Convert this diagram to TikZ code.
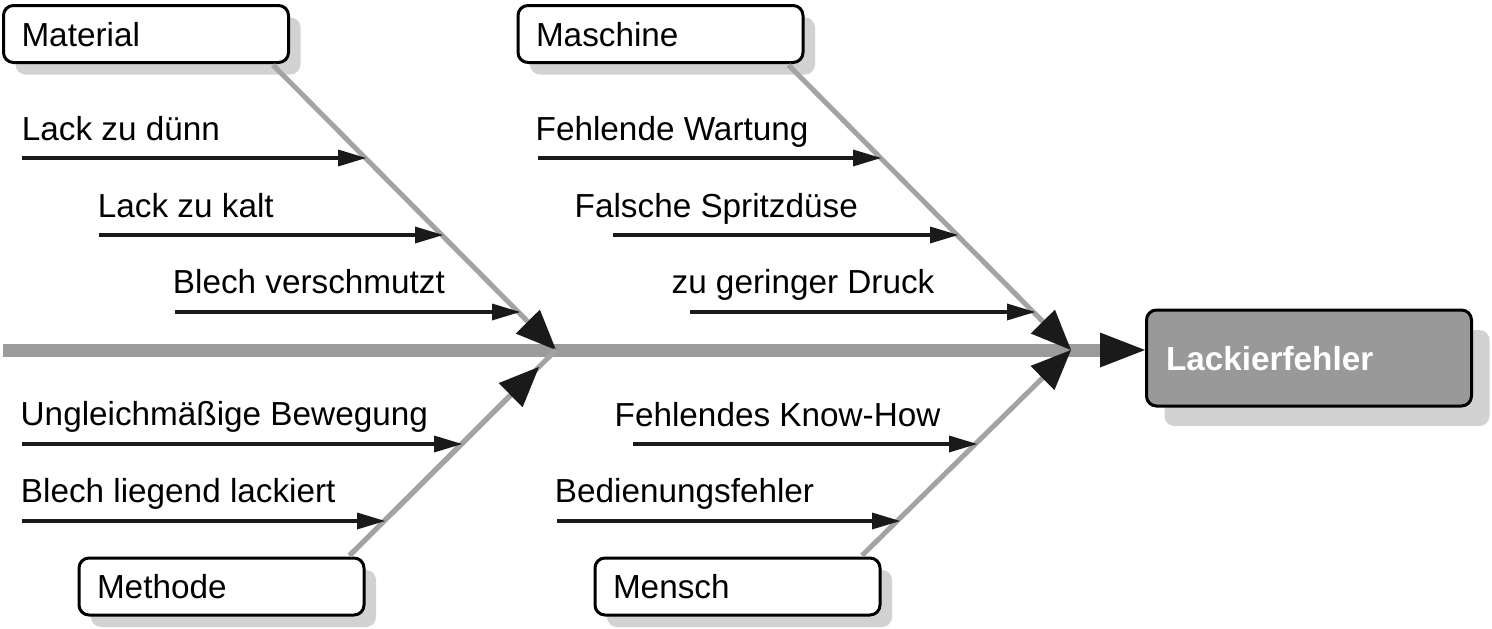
\documentclass[tikz,border=0pt]{standalone}
\usepackage{fontspec}
\setmainfont{Liberation Sans}
\usetikzlibrary{arrows.meta,shadows,calc}
\definecolor{spinegray}{HTML}{9B9B9B}
\definecolor{branchgray}{HTML}{A3A3A3}
\definecolor{shadowgray}{HTML}{D2D2D2}
\definecolor{headgray}{HTML}{999999}
\definecolor{tipblack}{HTML}{1A1A1A}
\begin{document}
\begin{tikzpicture}[x=1pt,y=-1pt,
  lbl/.style={font=\fontsize{33.3}{40}\selectfont, inner sep=0pt, anchor=base west},
  catbox/.style={draw=black, line width=3pt, fill=white, rounded corners=10pt,
    font=\fontsize{33.3}{40}\selectfont, text width=249pt, inner xsep=18pt, inner ysep=0pt,
    align=left, minimum height=57pt, text height=24pt, text depth=0pt,
    drop shadow={shadow xshift=12pt, shadow yshift=-12pt, fill=shadowgray, opacity=1}},
  effbox/.style={draw=black, line width=3pt, fill=headgray, text=white, rounded corners=10pt,
    font=\fontsize{33.3}{40}\selectfont\bfseries, text width=286pt, inner xsep=19.5pt, inner ysep=0pt,
    align=left, minimum height=96pt, text height=24pt, text depth=0pt,
    drop shadow={shadow xshift=18pt, shadow yshift=-20pt, fill=shadowgray, opacity=1}},
  spine/.style={draw=spinegray, line width=13pt},
  branch/.style={draw=branchgray, line width=5pt},
  bigtip/.style={-{Triangle[length=40pt,width=34pt,line width=0pt,color=tipblack,fill=tipblack]}},
  spinetip/.style={-{Triangle[length=45pt,width=35pt,line width=0pt,color=tipblack,fill=tipblack]}},
  cause/.style={draw=tipblack, line width=3.5pt, -{Triangle[length=28pt,width=17pt,line width=0pt]}},
]
\useasboundingbox (0,0) rectangle (1492,629);

% boxes
\node[catbox] (material) at (146,34) {Material};
\node[catbox] (maschine) at (660.5,34) {Maschine};
\node[catbox] (methode) at (221.5,586.5) {Methode};
\node[catbox] (mensch) at (737.5,586.5) {Mensch};
\node[effbox] (effect) at (1309,358) {Lackierfehler};

% junctions
\coordinate (s0) at (3,350);
\coordinate (j1) at (556,350);
\coordinate (j2) at (1071,350);
\coordinate (mab) at ($(material.south east)+(-17,1)$);
\coordinate (msb) at ($(maschine.south east)+(-16,1)$);
\coordinate (meb) at ($(methode.north east)+(-16,-1)$);
\coordinate (mnb) at ($(mensch.north west)+(268.5,-1)$);

% spine
\draw[spine, spinetip] (s0) -- (s0 -| effect.west);

% branches
\draw[branch, bigtip] (mab) -- (j1);
\draw[branch, bigtip] (msb) -- (j2);
\draw[branch] (meb) -- (j1);
\draw[branch, bigtip, shorten >=24pt] (meb) -- (j1);
\draw[branch, bigtip] (mnb) -- (j2);

% cause labels
\node[lbl] (t1) at (21.7,140) {Lack zu dünn};
\node[lbl] (t2) at (97.7,217) {Lack zu kalt};
\node[lbl] (t3) at (172.7,293) {Blech verschmutzt};
\node[lbl] (t4) at (535.5,140) {Fehlende Wartung};
\node[lbl] (t5) at (574.5,217) {Falsche Spritzdüse};
\node[lbl] (t6) at (671.4,293) {zu geringer Druck};
\node[lbl] (t7) at (20.5,425) {Ungleichmäßige Bewegung};
\node[lbl] (t8) at (20.7,502) {Blech liegend lackiert};
\node[lbl] (t9) at (614.5,426) {Fehlendes Know-How};
\node[lbl] (t10) at (554.7,502) {Bedienungsfehler};

% cause arrows
\coordinate (a1s) at (22,158);   \coordinate (a1e) at (366,158);
\coordinate (a2s) at (99,235);   \coordinate (a2e) at (443,235);
\coordinate (a3s) at (175,312);  \coordinate (a3e) at (520,312);
\coordinate (a4s) at (538,158);  \coordinate (a4e) at (881,158);
\coordinate (a5s) at (613,235);  \coordinate (a5e) at (958,235);
\coordinate (a6s) at (690,312);  \coordinate (a6e) at (1035,312);
\coordinate (a7s) at (22,444);   \coordinate (a7e) at (462,444);
\coordinate (a8s) at (22,521);   \coordinate (a8e) at (385,521);
\coordinate (a9s) at (633,444);  \coordinate (a9e) at (977,444);
\coordinate (a10s) at (557,521); \coordinate (a10e) at (900,521);
\foreach \i in {1,...,10} { \draw[cause] (a\i s) -- (a\i e); }
\end{tikzpicture}
\end{document}
